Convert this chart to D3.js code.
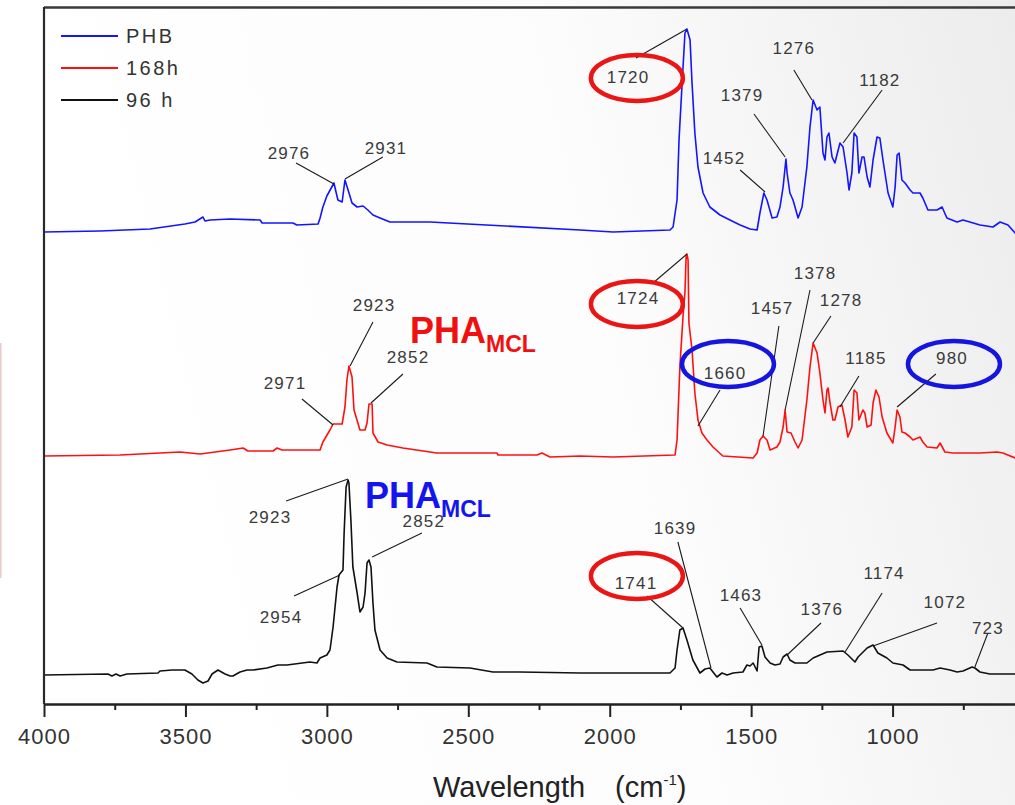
<!DOCTYPE html>
<html>
<head>
<meta charset="utf-8">
<script src="https://cdn.jsdelivr.net/npm/d3@7"></script>
<style>
  body { margin: 0; background: #fff; }
  svg { display: block; font-family: Arial, "Liberation Sans", sans-serif; }
</style>
</head>
<body>
<svg></svg>
<script>
// FTIR spectra, wavenumber (cm-1) vs absorbance (a.u., curves stacked)
var seriesNames = ['PHB', '168h', '96 h'];

var phb = [
    [4000,471],[3802,472],[3625,474],[3502,479],[3466,481],[3438,486],[3431,482],[3413,483],
    [3342,484],[3236,483],[3229,480],[3120,480],[3106,478],[3031,479],[3024,485],[3014,496],
    [3000,507],[2975,520],[2961,503],[2946,501],[2936,523],[2925,513],[2911,500],[2893,496],
    [2872,497],[2855,493],[2837,488],[2812,485],[2777,481],[2635,481],[2105,473],[1988,471],
    [1787,473],[1776,476],[1762,503],[1755,563],[1744,620],[1734,670],[1727,674],[1716,663],
    [1709,620],[1699,570],[1688,536],[1670,510],[1646,496],[1610,488],[1575,483],[1539,478],
    [1504,474],[1479,473],[1469,490],[1455,510],[1444,503],[1426,485],[1409,486],[1398,496],
    [1387,516],[1377,544],[1373,530],[1363,510],[1352,503],[1334,485],[1320,496],[1303,536],
    [1292,576],[1281,603],[1267,593],[1257,596],[1246,550],[1239,543],[1232,566],[1225,570],
    [1214,546],[1204,540],[1186,560],[1175,556],[1161,530],[1154,513],[1144,530],[1136,570],
    [1126,566],[1119,530],[1108,546],[1101,546],[1090,526],[1080,516],[1069,543],[1055,566],
    [1045,565],[1034,543],[1016,510],[999,496],[991,516],[984,548],[977,550],[967,523],
    [956,520],[938,513],[928,510],[903,510],[893,505],[875,493],[843,493],[825,496],
    [808,485],[772,481],[751,483],[691,478],[645,476],[620,481],[592,478],[567,470],[540,465]
];

var h168 = [
    [4000,247],[3731,248],[3519,251],[3448,249],[3342,253],[3296,255],[3279,252],[3190,252],
    [3176,255],[3159,253],[3024,253],[3014,261],[2989,273],[2978,279],[2946,279],[2936,296],
    [2929,323],[2922,337],[2911,326],[2904,293],[2883,273],[2865,273],[2858,280],[2851,299],
    [2840,299],[2837,270],[2819,261],[2787,258],[2731,255],[2611,250],[2399,250],[2395,248],
    [2257,248],[2240,250],[2211,246],[2105,247],[1988,246],[1769,248],[1762,263],[1752,336],
    [1741,386],[1734,411],[1730,446],[1727,449],[1723,443],[1720,380],[1709,353],[1699,310],
    [1688,283],[1674,270],[1656,263],[1635,256],[1600,247],[1493,245],[1479,250],[1469,263],
    [1458,267],[1444,263],[1433,253],[1409,256],[1398,261],[1387,276],[1380,293],[1373,271],
    [1359,270],[1345,261],[1334,255],[1320,263],[1303,303],[1292,336],[1281,360],[1267,350],
    [1257,330],[1246,303],[1239,290],[1232,313],[1228,315],[1221,300],[1211,283],[1204,283],
    [1193,296],[1179,298],[1168,283],[1158,266],[1144,276],[1136,313],[1126,310],[1119,283],
    [1105,293],[1098,290],[1090,276],[1076,278],[1069,300],[1059,313],[1048,306],[1037,286],
    [1020,270],[999,260],[991,276],[984,293],[974,286],[967,271],[956,270],[938,266],
    [928,263],[903,266],[893,261],[878,256],[843,255],[832,260],[815,251],[786,250],
    [691,250],[631,251],[610,250],[567,245],[540,243]
];

var h96 = [
    [4000,28],[3774,29],[3760,27],[3745,29],[3731,27],[3707,29],[3597,30],[3590,32],
    [3547,33],[3502,33],[3477,29],[3456,23],[3438,20],[3420,22],[3406,29],[3385,33],
    [3360,29],[3342,27],[3332,27],[3307,31],[3282,33],[3261,33],[3212,35],[3173,38],
    [3141,38],[3060,41],[3035,40],[3024,45],[3000,48],[2989,53],[2978,76],[2964,116],
    [2957,128],[2943,133],[2939,170],[2932,216],[2925,223],[2922,220],[2915,183],[2908,136],
    [2893,110],[2883,91],[2872,96],[2865,110],[2858,140],[2851,143],[2844,136],[2837,100],
    [2830,73],[2812,53],[2787,45],[2752,41],[2646,40],[2611,36],[2494,35],[2413,31],
    [2317,31],[2105,30],[1787,30],[1769,35],[1762,53],[1752,73],[1741,75],[1727,63],
    [1706,43],[1681,30],[1663,34],[1646,35],[1621,26],[1603,30],[1585,28],[1564,30],
    [1529,31],[1515,38],[1504,37],[1493,40],[1479,32],[1472,56],[1462,57],[1451,46],
    [1433,40],[1416,38],[1398,39],[1387,46],[1373,49],[1363,43],[1345,40],[1303,40],
    [1281,45],[1232,51],[1175,52],[1158,48],[1133,41],[1122,46],[1090,55],[1069,58],
    [1052,50],[1020,45],[999,40],[963,38],[938,33],[857,33],[832,35],[797,33],
    [772,31],[751,32],[719,36],[709,35],[691,31],[656,29],[567,29],[540,29]
];

var xTicks = [4000, 3500, 3000, 2500, 2000, 1500, 1000];
var xMinorTicks = [3750, 3250, 2750, 2250, 1750, 1250, 750];

// peak labels: text, label point, leader start, leader tip (all in chart units)
var peakLabels = [
    {text: '2976', label: [3134,550], from: [3109,540], to: [2975,519]},
    {text: '2931', label: [2791,555], from: [2802,546], to: [2936,524]},
    {text: '1720', label: [1935,626], from: [1907,645], to: [1727,674]},
    {text: '1452', label: [1596,545], from: [1539,533], to: [1451,511]},
    {text: '1379', label: [1532,608], from: [1490,589], to: [1380,546]},
    {text: '1276', label: [1349,655], from: [1349,633], to: [1285,603]},
    {text: '1182', label: [1045,623], from: [1037,613], to: [1175,560]},
    {text: '2971', label: [3148,320], from: [3088,304], to: [2978,278]},
    {text: '2923', label: [2833,398], from: [2837,381], to: [2918,337]},
    {text: '2852', label: [2713,346], from: [2731,329], to: [2844,300]},
    {text: '1724', label: [1900,405], from: [1847,420], to: [1727,449]},
    {text: '1660', label: [1592,330], from: [1610,313], to: [1688,277]},
    {text: '1457', label: [1426,395], from: [1402,377], to: [1458,267]},
    {text: '1378', label: [1274,430], from: [1292,413], to: [1380,293]},
    {text: '1278', label: [1182,403], from: [1218,387], to: [1281,360]},
    {text: '1185', label: [1094,345], from: [1119,327], to: [1186,296]},
    {text: '980',  label: [790,345],  from: [847,329],  to: [984,296]},
    {text: '2923', label: [3201,186], from: [3144,202], to: [2925,224]},
    {text: '2954', label: [3162,86],  from: [3116,107], to: [2954,128]},
    {text: '2852', label: [2657,182], from: [2664,170], to: [2840,146]},
    {text: '1741', label: [1907,120], from: [1868,107], to: [1741,75]},
    {text: '1639', label: [1769,175], from: [1759,161], to: [1642,35]},
    {text: '1463', label: [1536,108], from: [1539,95],  to: [1462,58]},
    {text: '1376', label: [1250,94],  from: [1253,80],  to: [1373,48]},
    {text: '1174', label: [1030,130], from: [1037,110], to: [1168,51]},
    {text: '1072', label: [815,101],  from: [843,80],   to: [1069,57]},
    {text: '723',  label: [663,75],   from: [663,70],   to: [709,36]}
];

// circled bands: ester carbonyl vs others
var highlights = [
    {at: [1904,625], kind: 'carbonyl'},
    {at: [1904,399], kind: 'carbonyl'},
    {at: [1904,127], kind: 'carbonyl'},
    {at: [1582,339], kind: 'other'},
    {at: [783,339],  kind: 'other'}
];

var tags = [
    {text: 'PHA', sub: 'MCL', at: [2706,360], series: '168h'},
    {text: 'PHA', sub: 'MCL', at: [2865,195], series: 'PHB'}
];

var width = 1015;
var height = 805;

var x = d3.scaleLinear().domain([4000, 400]).range([44, 1062.3]);
var y = d3.scaleLinear().domain([0, 695]).range([703, 8]);
var color = d3.scaleOrdinal().domain(seriesNames).range(['#1414ff', '#ff1010', '#111111']);
var ringColor = {carbonyl: '#ea1515', other: '#1515e0'};

var svg = d3.select('svg')
    .attr('width', width)
    .attr('height', height);

var defs = svg.append('defs');
var grad = defs.append('linearGradient')
    .attr('id', 'bg')
    .attr('x1', 0).attr('y1', 0.2).attr('x2', 1).attr('y2', 0);
grad.append('stop').attr('offset', '0%').attr('stop-color', '#ffffff');
grad.append('stop').attr('offset', '55%').attr('stop-color', '#fcfcfc');
grad.append('stop').attr('offset', '100%').attr('stop-color', '#ececec');

defs.append('clipPath')
    .attr('id', 'plot')
  .append('rect')
    .attr('x', 44).attr('y', 8)
    .attr('width', width - 44).attr('height', 696);

svg.append('rect')
    .attr('width', width)
    .attr('height', height)
    .attr('fill', 'url(#bg)');

// faint slide remnant at far left
svg.append('rect')
    .attr('x', 0).attr('y', 343)
    .attr('width', 1.5).attr('height', 235)
    .attr('fill', '#e9c9c9');

var line = d3.line()
    .x(d => x(d[0]))
    .y(d => y(d[1]));

var allSeries = [phb, h168, h96];

svg.append('g')
    .attr('clip-path', 'url(#plot)')
  .selectAll('path')
  .data(allSeries)
  .enter()
  .append('path')
    .attr('d', line)
    .attr('fill', 'none')
    .attr('stroke', (d, i) => color(seriesNames[i]))
    .attr('stroke-width', 1.6)
    .attr('stroke-linejoin', 'round');

// frame
svg.append('line')
    .attr('x1', x(4000)).attr('x2', width)
    .attr('y1', 7.5).attr('y2', 7.5)
    .attr('stroke', '#3a3a3a')
    .attr('stroke-width', 2.5);

svg.append('line')
    .attr('x1', x(4000)).attr('x2', x(4000))
    .attr('y1', 7).attr('y2', 704)
    .attr('stroke', '#2a2a2a')
    .attr('stroke-width', 2.2);

var xAxis = d3.axisBottom(x)
    .tickValues(xTicks)
    .tickSize(13)
    .tickSizeOuter(0)
    .tickPadding(11)
    .tickFormat(d3.format('d'));

var xMinor = d3.axisBottom(x)
    .tickValues(xMinorTicks)
    .tickSize(6)
    .tickSizeOuter(0)
    .tickFormat('');

var gx = svg.append('g')
    .attr('transform', 'translate(0, 704)')
    .call(xAxis);
svg.append('g')
    .attr('transform', 'translate(0, 704)')
    .call(xMinor);

svg.selectAll('.domain, .tick line')
    .attr('stroke', '#222')
    .attr('stroke-width', 2);

gx.selectAll('text')
    .attr('fill', '#333')
    .attr('font-size', 22)
    .attr('letter-spacing', 1);

var title = svg.append('text')
    .attr('x', 433)
    .attr('y', 797)
    .attr('font-size', 29)
    .attr('fill', '#222')
    .text('Wavelength');
title.append('tspan').attr('dx', 30).text('(cm');
title.append('tspan').attr('dy', -12).attr('font-size', 15).text('-1');
title.append('tspan').attr('dy', 12).text(')');

// leaders and labels
var ann = svg.append('g');
ann.selectAll('line')
  .data(peakLabels)
  .enter()
  .append('line')
    .attr('x1', d => x(d.from[0]))
    .attr('y1', d => y(d.from[1]))
    .attr('x2', d => x(d.to[0]))
    .attr('y2', d => y(d.to[1]))
    .attr('stroke', '#1a1a1a')
    .attr('stroke-width', 1.1);

ann.selectAll('text')
  .data(peakLabels)
  .enter()
  .append('text')
    .attr('x', d => x(d.label[0]))
    .attr('y', d => y(d.label[1]))
    .attr('text-anchor', 'middle')
    .attr('dominant-baseline', 'central')
    .attr('font-size', 17)
    .attr('letter-spacing', 1.2)
    .attr('fill', '#3a3a3a')
    .text(d => d.text);

svg.append('g')
  .selectAll('ellipse')
  .data(highlights)
  .enter()
  .append('ellipse')
    .attr('cx', d => x(d.at[0]))
    .attr('cy', d => y(d.at[1]))
    .attr('rx', 46)
    .attr('ry', 23)
    .attr('fill', 'none')
    .attr('stroke', d => ringColor[d.kind])
    .attr('stroke-width', 4.5);

var tagText = svg.append('g')
  .selectAll('text')
  .data(tags)
  .enter()
  .append('text')
    .attr('x', d => x(d.at[0]))
    .attr('y', d => y(d.at[1]))
    .attr('font-weight', 'bold')
    .attr('font-size', 36)
    .attr('fill', d => d.series === 'PHB' ? '#1414f0' : '#f01010')
    .text(d => d.text);
tagText.append('tspan')
    .attr('dy', 9)
    .attr('font-size', 23)
    .text(d => d.sub);

// legend
var legend = svg.append('g')
  .selectAll('g')
  .data(seriesNames)
  .enter()
  .append('g')
    .attr('transform', (d, i) => 'translate(61, ' + (36 + i * 32) + ')');

legend.append('line')
    .attr('x1', 0).attr('x2', 57)
    .attr('stroke', d => color(d))
    .attr('stroke-width', 2);

legend.append('text')
    .attr('x', 65)
    .attr('dominant-baseline', 'central')
    .attr('font-size', 20)
    .attr('letter-spacing', 2.5)
    .attr('fill', '#333')
    .text(d => d);
</script>
</body>
</html>
